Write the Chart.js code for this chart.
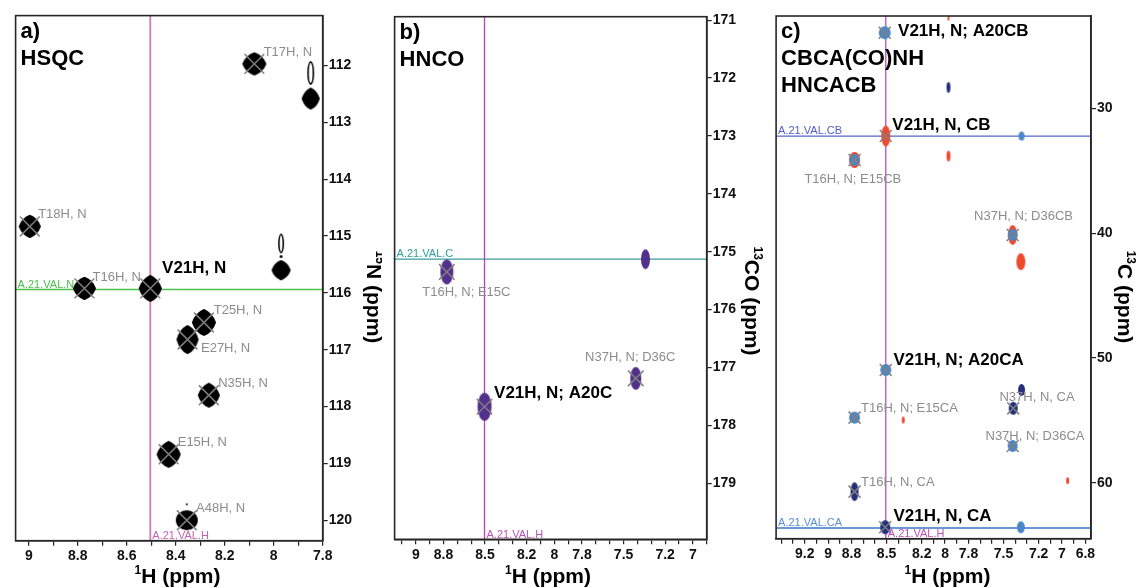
<!DOCTYPE html>
<html>
<head>
<meta charset="utf-8">
<script src="https://cdn.jsdelivr.net/npm/chart.js@4.4.0/dist/chart.umd.min.js"></script>
<style>
  body { margin: 0; background: #fff; }
  #wrap { position: relative; width: 1137px; height: 588px; overflow: hidden; }
  #wrap canvas { position: absolute; top: 0; }
</style>
</head>
<body>
<div id="wrap">
  <canvas id="hsqc" width="382" height="588" style="left:0px"></canvas>
  <canvas id="hnco" width="384" height="588" style="left:382px"></canvas>
  <canvas id="cbca" width="371" height="588" style="left:766px"></canvas>
</div>
<script>
// ---- a) HSQC : 1H / 15N (ppm)
var hsqcName = ['T17H, N', 'T18H, N', 'T16H, N', 'V21H, N', 'T25H, N', 'E27H, N', 'N35H, N', 'E15H, N', 'A48H, N'];
var hsqcH    = [8.079, 8.996, 8.773, 8.504, 8.285, 8.352, 8.265, 8.429, 8.355];
var hsqcN    = [111.97, 114.83, 115.92, 115.92, 116.52, 116.82, 117.80, 118.84, 120.00];
var hsqcLabH = [8.041, 8.962, 8.740, 8.456, 8.245, 8.297, 8.227, 8.392, 8.317];
var hsqcLabN = [111.77, 114.62, 115.72, 115.57, 116.31, 116.98, 117.59, 118.63, 119.79];
var hsqcOtherH = [7.849, 7.970];          // unassigned peaks
var hsqcOtherN = [112.58, 115.60];
var hsqcSideH  = [7.849, 7.970, 7.970, 8.355];   // weak streaks / dots
var hsqcSideN  = [112.13, 115.13, 115.36, 119.72];
var hsqcXLabels = [9, 8.8, 8.6, 8.4, 8.2, 8, 7.8];
var hsqcYTicks  = [112, 113, 114, 115, 116, 117, 118, 119, 120];
var hsqcRefH = 8.504, hsqcRefN = 115.94;

// ---- b) HNCO : 1H / 13CO (ppm)
var hncoName  = ['T16H, N; E15C', 'V21H, N; A20C', 'N37H, N; D36C'];
var hncoH     = [8.776, 8.504, 7.412];
var hncoCO    = [175.35, 177.68, 177.19];
var hncoLabH  = [8.635, 8.435, 7.452];
var hncoLabCO = [175.71, 177.44, 176.83];
var hncoOtherH  = [7.342];
var hncoOtherCO = [175.13];
var hncoXLabels = [9, 8.8, 8.5, 8.2, 8, 7.8, 7.5, 7.2, 7];
var hncoYTicks  = [171, 172, 173, 174, 175, 176, 177, 178, 179];
var hncoRefH = 8.504, hncoRefCO = 175.13;

// ---- c) CBCA(CO)NH / HNCACB : 1H / 13C (ppm)
var cbBlueH = [8.516, 7.346, 8.774, 7.422, 8.507, 8.774, 7.422, 7.352];
var cbBlueC = [23.94, 32.22, 34.14, 40.15, 50.97, 54.79, 57.06, 63.57];
var cbNavyH = [7.971, 7.346, 7.417, 8.774, 8.512];
var cbNavyC = [28.32, 52.57, 54.04, 60.72, 63.57];
var cbRedH  = [7.971, 8.507, 7.971, 8.774, 7.422, 7.352, 8.358, 6.952];
var cbRedC  = [22.77, 32.22, 33.82, 34.14, 40.15, 42.29, 54.98, 59.84];
var cbAssH  = [8.516, 8.507, 8.774, 7.422, 8.507, 8.774, 7.417, 7.422, 8.774, 8.512];
var cbAssC  = [23.94, 32.22, 34.14, 40.15, 50.97, 54.79, 54.04, 57.06, 60.72, 63.57];
var cbName  = ['V21H, N; A20CB', 'V21H, N, CB', 'T16H, N; E15CB', 'N37H, N; D36CB', 'V21H, N; A20CA',
               'N37H, N, CA', 'T16H, N; E15CA', 'N37H, N; D36CA', 'T16H, N, CA', 'V21H, N, CA'];
var cbLabH  = [8.402, 8.451, 8.789, 7.329, 8.442, 7.535, 8.719, 7.231, 8.719, 8.442];
var cbLabC  = [23.86, 31.34, 35.67, 38.63, 50.17, 53.16, 54.04, 56.31, 60.00, 62.72];
var cbXLabels = [9.2, 9, 8.8, 8.5, 8.2, 8, 7.8, 7.5, 7.2, 7, 6.8];
var cbYTicks  = [30, 40, 50, 60];
var cbRefH = 8.507, cbRefCB = 32.22, cbRefCA = 63.63;

var FONT = "'Liberation Sans', Arial, Helvetica, sans-serif";
var GREY = '#8c8c8c';

function pts(xs, ys) {
  return xs.map(function (x, i) { return {x: x, y: ys[i]}; });
}
function steps(a, b, st) {
  var out = [];
  for (var v = a; v <= b + st / 2; v += st) out.push(Math.round(v * 100) / 100);
  return out;
}
// contour blob images used as point styles
function ell(col, w, h, ring) {
  var c = document.createElement('canvas');
  c.width = Math.ceil(w) + 2; c.height = Math.ceil(h) + 2;
  var g = c.getContext('2d');
  g.fillStyle = col;
  g.beginPath(); g.ellipse(c.width / 2, c.height / 2, w / 2, h / 2, 0, 0, Math.PI * 2); g.fill();
  if (ring) {
    g.fillStyle = '#fff';
    g.beginPath(); g.ellipse(c.width / 2, c.height / 2, Math.max(w / 2 - 1.6, 0.5), Math.max(h / 2 - 1.8, 0.5), 0, 0, Math.PI * 2); g.fill();
  }
  return c;
}
// fat rounded diamond (HSQC contour stack)
function dia(w, h) {
  var c = document.createElement('canvas');
  c.width = w + 2; c.height = h + 2;
  var g = c.getContext('2d'), cx = c.width / 2, cy = c.height / 2;
  var a = w / 2 - 1.5, b = h / 2 - 1.5, k = 0.36;
  g.fillStyle = g.strokeStyle = '#000';
  g.lineWidth = 3; g.lineJoin = 'round';
  g.beginPath();
  g.moveTo(cx, cy - b);
  g.quadraticCurveTo(cx + a * k * 2, cy - b * k * 2, cx + a, cy);
  g.quadraticCurveTo(cx + a * k * 2, cy + b * k * 2, cx, cy + b);
  g.quadraticCurveTo(cx - a * k * 2, cy + b * k * 2, cx - a, cy);
  g.quadraticCurveTo(cx - a * k * 2, cy - b * k * 2, cx, cy - b);
  g.closePath(); g.fill(); g.stroke();
  return c;
}

function xScale(min, max, tickVals, labels, h) {
  return {
    type: 'linear', position: 'bottom', reverse: true, min: min, max: max,
    afterBuildTicks: function (s) { s.ticks = tickVals.map(function (v) { return {value: v}; }); },
    afterFit: function (s) { s.height = h; },
    grid: {drawOnChartArea: false, drawTicks: true, tickLength: 5, color: '#222', lineWidth: 1.2},
    border: {display: true, color: '#222', width: 1.6},
    ticks: {
      autoSkip: false, maxRotation: 0, padding: 2, color: '#111',
      font: {family: FONT, size: 14, weight: 'bold'},
      callback: function (v) { var r = Math.round(v * 100) / 100; return labels.indexOf(r) >= 0 ? String(r) : ''; }
    }
  };
}
function yScale(min, max, tickVals, w) {
  return {
    type: 'linear', position: 'right', reverse: true, min: min, max: max,
    afterBuildTicks: function (s) { s.ticks = tickVals.map(function (v) { return {value: v}; }); },
    afterFit: function (s) { s.width = w; },
    grid: {drawOnChartArea: false, drawTicks: true, tickLength: 5, color: '#222', lineWidth: 1.2},
    border: {display: true, color: '#222', width: 1.6},
    ticks: {padding: 1, color: '#111', font: {family: FONT, size: 14, weight: 'bold'}}
  };
}
function crosses(xs, ys, r) {
  return {data: pts(xs, ys), pointStyle: 'crossRot', pointRadius: r, pointBorderColor: 'rgba(128,128,128,0.95)',
          pointBorderWidth: 1.6, showLine: false};
}
function blobs(xs, ys, imgs) {
  return {data: pts(xs, ys), pointStyle: imgs, pointRadius: 3, showLine: false};
}
function refLine(p0, p1, col, w) {
  return {type: 'line', data: [p0, p1], borderColor: col, backgroundColor: col, borderWidth: w,
          pointRadius: 0, showLine: true, fill: false};
}

// text overlay: frame, panel title, peak labels, reference-line labels, axis titles
function deco(d) {
  return {
    id: 'deco',
    afterDraw: function (chart) {
      var ctx = chart.ctx, ca = chart.chartArea, xs = chart.scales.x, ys = chart.scales.y;
      ctx.save();
      ctx.strokeStyle = '#262626'; ctx.lineWidth = 1.6;
      ctx.strokeRect(ca.left, ca.top, ca.right - ca.left, ca.bottom - ca.top);

      ctx.fillStyle = '#000'; ctx.textAlign = 'left'; ctx.textBaseline = 'alphabetic';
      ctx.font = 'bold 22px ' + FONT;
      d.title.forEach(function (t, i) { ctx.fillText(t, ca.left + 5, ca.top + 22 + i * 27); });

      ctx.textBaseline = 'middle';
      d.names.forEach(function (t, i) {
        var bold = t.indexOf('V21') === 0;
        ctx.font = bold ? 'bold 17px ' + FONT : '13px ' + FONT;
        ctx.fillStyle = bold ? '#000' : GREY;
        ctx.textAlign = d.align[i];
        ctx.fillText(t, xs.getPixelForValue(d.lx[i]), ys.getPixelForValue(d.ly[i]));
      });

      ctx.font = '11px ' + FONT; ctx.textAlign = 'left'; ctx.textBaseline = 'alphabetic';
      d.refs.forEach(function (r) {
        ctx.fillStyle = r.col;
        if (r.h) ctx.fillText(r.t, ca.left + 2, ys.getPixelForValue(r.v) - 2);
        else ctx.fillText(r.t, xs.getPixelForValue(r.v) + 2, ca.bottom - 1.5);
      });

      supText(ctx, d.xt.x, 583, '1', 'H (ppm)', 0);
      supText(ctx, d.yt.x, d.yt.y, d.yt.sup, d.yt.main, Math.PI / 2);
      ctx.restore();
    }
  };
}
function supText(ctx, x, y, sup, main, rot) {
  ctx.save();
  ctx.translate(x, y); ctx.rotate(rot);
  ctx.textAlign = 'left'; ctx.textBaseline = 'alphabetic'; ctx.fillStyle = '#000';
  ctx.font = 'bold 12px ' + FONT; var ws = ctx.measureText(sup).width;
  ctx.font = 'bold 21px ' + FONT; var wm = ctx.measureText(main).width;
  var x0 = -(ws + wm) / 2;
  ctx.font = 'bold 12px ' + FONT; ctx.fillText(sup, x0, -9);
  ctx.font = 'bold 21px ' + FONT; ctx.fillText(main, x0 + ws, 0);
  ctx.restore();
}
function baseOpts(pad, sx, sy) {
  return {
    responsive: false, animation: false, devicePixelRatio: 1,
    layout: {padding: pad},
    plugins: {legend: {display: false}, tooltip: {enabled: false}},
    events: [],
    scales: {x: sx, y: sy}
  };
}

// ---------- a) HSQC
var aMin = 7.8, aMax = 9.054, aYMin = 111.12, aYMax = 120.36;
var hsqcImgs = [dia(24, 23), dia(22, 23), dia(23, 23), dia(23, 27), dia(24, 27), dia(22, 29), dia(22, 25), dia(24, 27), ell('#000', 22, 20)];
new Chart(document.getElementById('hsqc'), {
  type: 'scatter',
  data: {datasets: [
    crosses(hsqcH, hsqcN, 14),
    blobs(hsqcH, hsqcN, hsqcImgs),
    blobs(hsqcOtherH, hsqcOtherN, [dia(18, 22), dia(19, 20)]),
    blobs(hsqcSideH, hsqcSideN, [ell('#000', 7, 24, true), ell('#000', 6, 20, true), ell('#000', 3, 3), ell('#000', 2, 2)]),
    refLine({x: hsqcRefH, y: aYMin}, {x: hsqcRefH, y: aYMax}, '#cc7ab8', 1.8),
    refLine({x: aMax, y: hsqcRefN}, {x: aMin, y: hsqcRefN}, '#4cc24c', 1.6)
  ]},
  options: baseOpts({left: 12.3, top: 15, right: 0, bottom: 0},
    xScale(aMin, aMax, steps(7.8, 9.0, 0.1), hsqcXLabels, 47.3),
    yScale(aYMin, aYMax, hsqcYTicks, 59.3)),
  plugins: [deco({
    title: ['a)', 'HSQC'],
    names: hsqcName, lx: hsqcLabH, ly: hsqcLabN,
    align: ['left', 'left', 'left', 'left', 'left', 'left', 'left', 'left', 'left'],
    refs: [{t: 'A.21.VAL.N', v: hsqcRefN, h: true, col: '#4cc04c'}, {t: 'A.21.VAL.H', v: hsqcRefH, h: false, col: '#c860b0'}],
    xt: {x: 177.5}, yt: {x: 366.7, y: 297, sup: '15', main: 'N (ppm)'}
  })]
});

// ---------- b) HNCO
var bMin = 6.9, bMax = 9.153, bYMin = 170.94, bYMax = 179.97;
var PURPLE = '#53308c';
new Chart(document.getElementById('hnco'), {
  type: 'scatter',
  data: {datasets: [
    crosses(hncoH, hncoCO, 11),
    blobs(hncoH, hncoCO, [ell(PURPLE, 13, 25), ell(PURPLE, 14, 28), ell(PURPLE, 11, 23)]),
    blobs(hncoOtherH, hncoOtherCO, [ell(PURPLE, 9, 20)]),
    refLine({x: hncoRefH, y: bYMin}, {x: hncoRefH, y: bYMax}, '#c33cb8', 1.3),
    refLine({x: bMax, y: hncoRefCO}, {x: bMin, y: hncoRefCO}, '#3c9c9c', 1.3)
  ]},
  options: baseOpts({left: 6.3, top: 16.7, right: 0, bottom: 0},
    xScale(bMin, bMax, steps(6.9, 9.1, 0.1), hncoXLabels, 48.7),
    yScale(bYMin, bYMax, hncoYTicks, 59.3)),
  plugins: [deco({
    title: ['b)', 'HNCO'],
    names: hncoName, lx: hncoLabH, ly: hncoLabCO,
    align: ['center', 'left', 'center'],
    refs: [{t: 'A.21.VAL.C', v: hncoRefCO, h: true, col: '#2e9e9e'}, {t: 'A.21.VAL.H', v: hncoRefH, h: false, col: '#c050b8'}],
    xt: {x: 548 - 382}, yt: {x: 745 - 382, y: 301, sup: '13', main: 'CO (ppm)'}
  })]
});

// ---------- c) CBCA(CO)NH / HNCACB
var cMin = 6.752, cMax = 9.445, cYMin = 22.6, cYMax = 64.49;
var BLUE = '#4a87c8', NAVY = '#222f7a', RED = '#ee4a2e';
new Chart(document.getElementById('cbca'), {
  type: 'scatter',
  data: {datasets: [
    crosses(cbAssH, cbAssC, 8.5),
    blobs(cbBlueH, cbBlueC, [ell(BLUE, 12, 13), ell(BLUE, 6, 9), ell(BLUE, 10, 12), ell(BLUE, 10, 12),
                             ell(BLUE, 11, 12), ell(BLUE, 11, 12), ell(BLUE, 10, 12), ell(BLUE, 8, 12)]),
    blobs(cbNavyH, cbNavyC, [ell(NAVY, 4, 11), ell(NAVY, 7, 12), ell(NAVY, 9, 13), ell(NAVY, 8, 19), ell(NAVY, 10, 14)]),
    blobs(cbRedH, cbRedC, [ell(RED, 2, 6), ell(RED, 9, 21), ell(RED, 4, 11), ell(RED, 11, 16),
                           ell(RED, 9, 20), ell(RED, 9, 17), ell(RED, 3, 7), ell(RED, 3, 7)]),
    refLine({x: cbRefH, y: cYMin}, {x: cbRefH, y: cYMax}, '#b550c0', 1.3),
    refLine({x: cMax, y: cbRefCB}, {x: cMin, y: cbRefCB}, '#5565cc', 1.2),
    refLine({x: cMax, y: cbRefCA}, {x: cMin, y: cbRefCA}, '#6a98d4', 2)
  ]},
  options: baseOpts({left: 6.3, top: 16, right: 0, bottom: 0},
    xScale(cMin, cMax, steps(6.8, 9.4, 0.1), cbXLabels, 49.3),
    yScale(cYMin, cYMax, cbYTicks, 46)),
  plugins: [deco({
    title: ['c)', 'CBCA(CO)NH', 'HNCACB'],
    names: cbName, lx: cbLabH, ly: cbLabC,
    align: ['left', 'left', 'center', 'center', 'left', 'left', 'left', 'center', 'left', 'left'],
    refs: [{t: 'A.21.VAL.CB', v: cbRefCB, h: true, col: '#5060c8'}, {t: 'A.21.VAL.CA', v: cbRefCA, h: true, col: '#5a8fd6'},
           {t: 'A.21.VAL.H', v: cbRefH, h: false, col: '#c050b8'}],
    xt: {x: 947.5 - 766}, yt: {x: 1118 - 766, y: 297, sup: '13', main: 'C (ppm)'}
  })]
});
</script>
</body>
</html>
